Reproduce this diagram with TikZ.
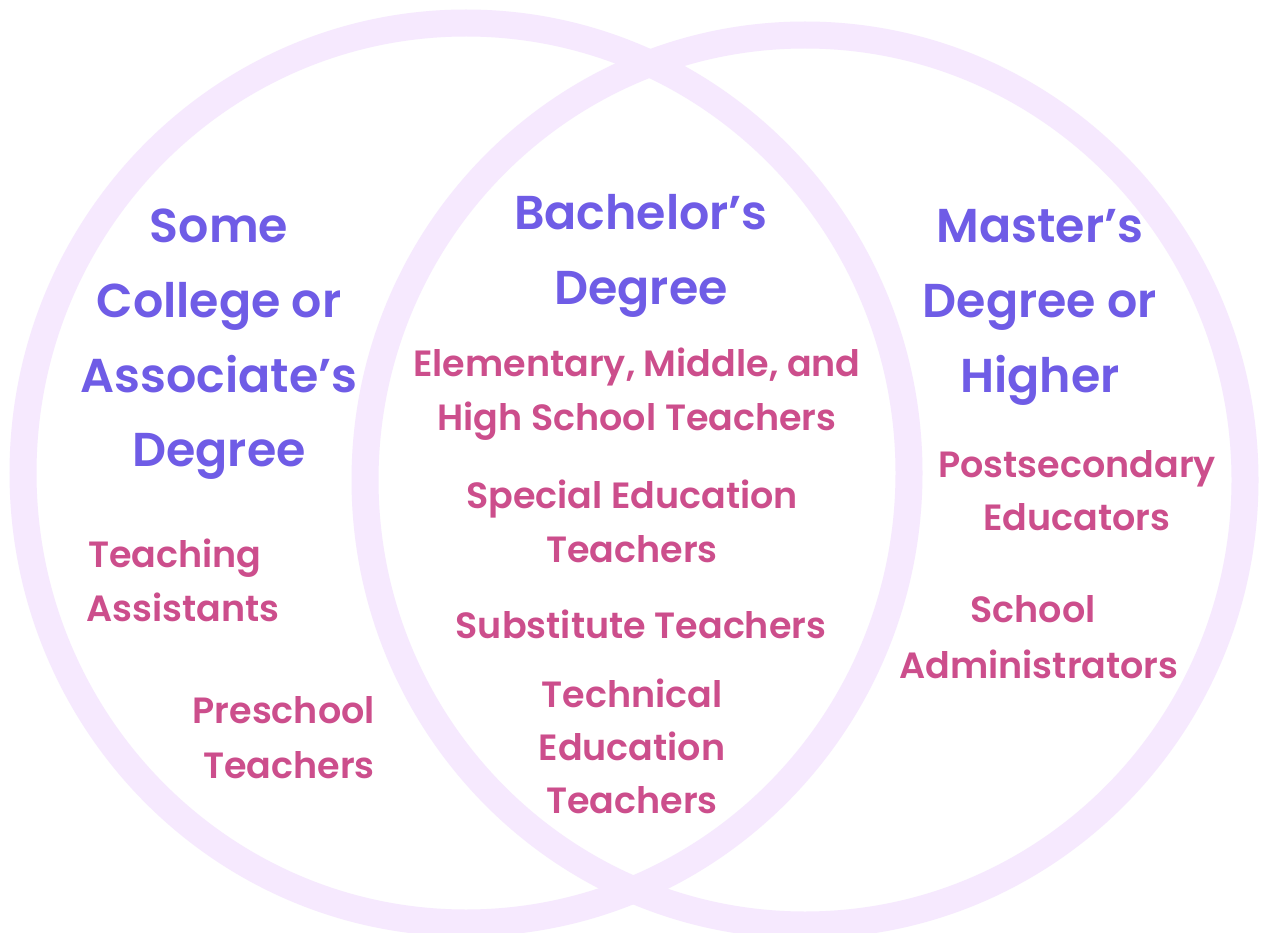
\documentclass[tikz,border=0pt]{standalone}
\usepackage{fontspec}
\setmainfont{Poppins SemiBold}
\definecolor{ringc}{HTML}{F6E9FE}
\definecolor{ttlc}{HTML}{6F5CE6}
\definecolor{pnkc}{HTML}{CC4E8C}
\begin{document}
\begin{tikzpicture}[x=1pt,y=-1pt,
  ringline/.style={draw=ringc, line width=27pt},
  ttl/.style={font=\fontsize{47.5}{74}\selectfont, text=ttlc, anchor=base, inner sep=0pt},
  item/.style={font=\fontsize{36.5}{53}\selectfont, text=pnkc, anchor=base, inner sep=0pt},
  iteml/.style={item, anchor=base west},
  itemr/.style={item, anchor=base east}]
\useasboundingbox (0,0) rectangle (1268,933);
\fill[white] (0,0) rectangle (1268,933);
% circles
\coordinate (cl) at (466,473);
\coordinate (cr) at (805,480);
\draw[ringline] (cl) circle[x radius=443pt, y radius=450pt];
\draw[ringline] (cr) circle[x radius=440pt, y radius=445pt];
% left title
\node[ttl] (l1) at (219,243) {Some};
\node[ttl] (l2) at (219,317) {College or};
\node[ttl] (l3) at (219,392) {Associate’s};
\node[ttl] (l4) at (219,466) {Degree};
% center title
\node[ttl] (c1) at (641,230) {Bachelor’s};
\node[ttl] (c2) at (641,304) {Degree};
% right title
\node[ttl] (r1) at (1040,243) {Master’s};
\node[ttl] (r2) at (1040,317) {Degree or};
\node[ttl] (r3) at (1040,392) {Higher};
% center items
\node[item] (e1) at (637,376) {Elementary, Middle, and};
\node[item] (e2) at (637,430) {High School Teachers};
\node[item] (s1) at (632,508) {Special Education};
\node[item] (s2) at (632,562) {Teachers};
\node[item] (u1) at (641,638) {Substitute Teachers};
\node[item] (t1) at (632,707) {Technical};
\node[item] (t2) at (632,760) {Education};
\node[item] (t3) at (632,813) {Teachers};
% left items
\node[iteml] (a1) at (88,567) {Teaching};
\node[iteml] (a2) at (86,621) {Assistants};
\node[itemr] (p1) at (375,723) {Preschool};
\node[itemr] (p2) at (375,778) {Teachers};
% right items
\node[item] (ps1) at (1077,477) {Postsecondary};
\node[item] (ps2) at (1077,530) {Educators};
\node[item] (sa1) at (1033,622) {School};
\node[item] (sa2) at (1039,678) {Administrators};
\end{tikzpicture}
\end{document}
